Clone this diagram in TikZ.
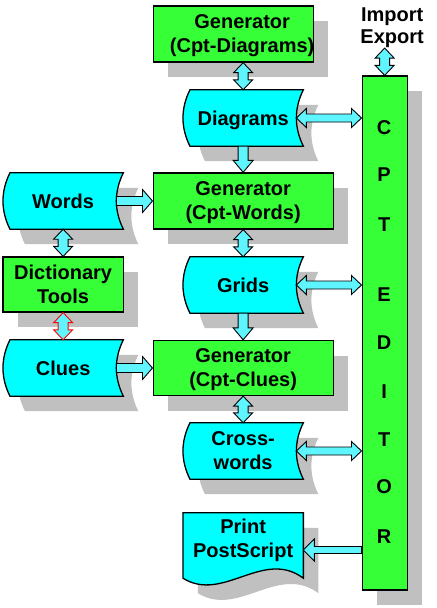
\documentclass[tikz,border=0pt]{standalone}
\usepackage{fontspec}
\setmainfont{Liberation Sans}
\usetikzlibrary{calc,shadows,backgrounds}
\definecolor{boxgreen}{RGB}{55,255,55}
\definecolor{docyan}{RGB}{0,255,255}
\definecolor{arrcyan}{RGB}{95,245,255}
\definecolor{shgray}{RGB}{192,192,192}
\pgfdeclarelayer{bgzero}
\pgfsetlayers{bgzero,background,main}
\tikzset{
  shad/.style={drop shadow={shadow xshift=15pt, shadow yshift=-15pt, fill=shgray, opacity=1, draw=none}},
  txt/.style={font=\bfseries\fontsize{20pt}{24pt}\selectfont, align=center, inner sep=0pt},
  genbox/.style={rectangle, draw=black, line width=1.3pt, fill=boxgreen, inner sep=0pt, minimum height=56pt, shad},
  storednode/.style={rectangle, inner sep=0pt, minimum width=120pt, minimum height=56pt},
  docshape/.style={draw=black, line width=1.3pt, fill=docyan, shad},
  blockarr/.style={fill=arrcyan, draw=black, line width=0.9pt, line join=miter},
}
\newcommand\storedpath[1]{($(#1.north west)+(7,0)$) -- (#1.north east)
  .. controls ($(#1.north east)+(-9.3,18.7)$) and ($(#1.south east)+(-9.3,-18.7)$) .. (#1.south east)
  -- ($(#1.south west)+(7,0)$)
  .. controls ($(#1.south west)+(-2.3,-18.7)$) and ($(#1.north west)+(-2.3,18.7)$) .. ($(#1.north west)+(7,0)$) -- cycle}
\newcommand\printpath[1]{(#1.north west) -- (#1.north east) -- ($(#1.south east)+(0,14)$)
  .. controls ($(#1.south east)+(-40,-16)$) and ($(#1.south west)+(40,39)$) .. ($(#1.south west)+(0,14)$) -- cycle}
\newcommand\vdbl[3][black]{%
  \draw[blockarr, draw=#1] let \p1=(#2), \p2=(#3) in
  (\x2,\y1) -- (\x2+9.5pt,\y1-10pt) -- (\x2+5pt,\y1-10pt) -- (\x2+5pt,\y2+10pt) -- (\x2+9.5pt,\y2+10pt)
  -- (\x2,\y2) -- (\x2-9.5pt,\y2+10pt) -- (\x2-5pt,\y2+10pt) -- (\x2-5pt,\y1-10pt) -- (\x2-9.5pt,\y1-10pt) -- cycle;}
\newcommand\vsgl[2]{%
  \draw[blockarr] let \p1=(#1), \p2=(#2) in
  (\x2-5pt,\y1) -- (\x2+5pt,\y1) -- (\x2+5pt,\y2+12pt) -- (\x2+10pt,\y2+12pt) -- (\x2,\y2)
  -- (\x2-10pt,\y2+12pt) -- (\x2-5pt,\y2+12pt) -- cycle;}
\newcommand\hdbl[2]{%
  \draw[blockarr] let \p1=(#1), \p2=(#2) in
  (\x1,\y1) -- (\x1+10pt,\y1+9.5pt) -- (\x1+10pt,\y1+4pt) -- (\x2-10pt,\y1+4pt) -- (\x2-10pt,\y1+9.5pt)
  -- (\x2,\y1) -- (\x2-10pt,\y1-9.5pt) -- (\x2-10pt,\y1-4pt) -- (\x1+10pt,\y1-4pt) -- (\x1+10pt,\y1-9.5pt) -- cycle;}
\newcommand\hright[2]{%
  \draw[blockarr] let \p1=(#1), \p2=(#2) in
  (\x1,\y1+4.5pt) -- (\x2-10pt,\y1+4.5pt) -- (\x2-10pt,\y1+11.5pt) -- (\x2,\y1)
  -- (\x2-10pt,\y1-11.5pt) -- (\x2-10pt,\y1-4.5pt) -- (\x1,\y1-4.5pt) -- cycle;}
\newcommand\hleft[2]{%
  \draw[blockarr] let \p1=(#1), \p2=(#2) in
  (\x1,\y1) -- (\x1+11pt,\y1+11pt) -- (\x1+11pt,\y1+3.5pt) -- (\x2,\y1+3.5pt)
  -- (\x2,\y1-3.5pt) -- (\x1+11pt,\y1-3.5pt) -- (\x1+11pt,\y1-11pt) -- cycle;}
\begin{document}
\begin{tikzpicture}[x=1pt,y=-1pt]
\begin{pgfonlayer}{bgzero}
  \path[use as bounding box, fill=white] (0,0) rectangle (436,608);
\end{pgfonlayer}
% rectangular boxes
\node[genbox, minimum width=160pt] (gen1) at (233,34) {};
\node[txt] (gen1t) at (242,34) {Generator\\\smash{(Cpt-Diagrams)}};
\node[genbox, txt, minimum width=180pt] (gen2) at (243,201) {Generator\\\smash{(Cpt-Words)}};
\node[genbox, txt, minimum width=180pt, minimum height=55pt] (gen3) at (243,368) {Generator\\\smash{(Cpt-Clues)}};
\node[genbox, txt, minimum width=120pt, minimum height=55pt] (dict) at (63,284.5) {Dictionary\\Tools};
\node[genbox, minimum width=45pt, minimum height=514pt] (editor) at (384.5,333) {};
\node[txt] (e1) at (384,128) {C};
\node[txt] (e2) at (384,175) {P};
\node[txt] (e3) at (384,225) {T};
\node[txt] (e4) at (384,295) {E};
\node[txt] (e5) at (384,343) {D};
\node[txt] (e6) at (384,392) {I};
\node[txt] (e7) at (384,440) {T};
\node[txt] (e8) at (384,487) {O};
\node[txt] (e9) at (384,537) {R};
\node[txt, font=\bfseries\fontsize{20pt}{22pt}\selectfont] (impexp) at (392,26) {Import\\\smash{Export}};
% stored data shapes
\node[storednode, txt, text depth=0pt] (diag) at (243,118) {Diagrams};
\node[storednode, txt] (grids) at (243,285) {Grids};
\node[storednode, txt] (cross) at (243,451) {Cross-\\words};
\node[storednode, txt] (words) at (63,201) {Words};
\node[storednode, txt] (clues) at (63,368) {Clues};
\node[storednode, txt, minimum height=51pt] (print) at (243,538.5) {Print\\\smash{PostScript}};
\begin{pgfonlayer}{background}
  \draw[docshape] \storedpath{diag};
  \draw[docshape] \storedpath{grids};
  \draw[docshape] \storedpath{cross};
  \draw[docshape] \storedpath{words};
  \draw[docshape] \storedpath{clues};
  \draw[docshape] \printpath{print};
\end{pgfonlayer}
% helper points
\coordinate (diagR) at ($(diag.east)+(-7,0)$);
\coordinate (gridsR) at ($(grids.east)+(-7,0)$);
\coordinate (crossR) at ($(cross.east)+(-7,0)$);
\coordinate (wordsR) at ($(words.east)+(-7,0)$);
\coordinate (cluesR) at ($(clues.east)+(-7,0)$);
\coordinate (printR) at ($(print.east)+(0,11.5)$);
\coordinate (ietop) at ($(impexp.south)+(0,4)$);
% connectors
\vdbl{gen1.south}{diag.north}
\vsgl{diag.south}{gen2.north}
\vdbl{gen2.south}{grids.north}
\vsgl{grids.south}{gen3.north}
\vdbl{gen3.south}{cross.north}
\vdbl{words.south}{dict.north}
\vdbl[red]{dict.south}{clues.north}
\vdbl{ietop}{editor.north}
\hright{wordsR}{gen2.west}
\hright{cluesR}{gen3.west}
\hdbl{diagR}{editor.west}
\hdbl{gridsR}{editor.west}
\hdbl{crossR}{editor.west}
\hleft{printR}{editor.west}
\end{tikzpicture}
\end{document}
